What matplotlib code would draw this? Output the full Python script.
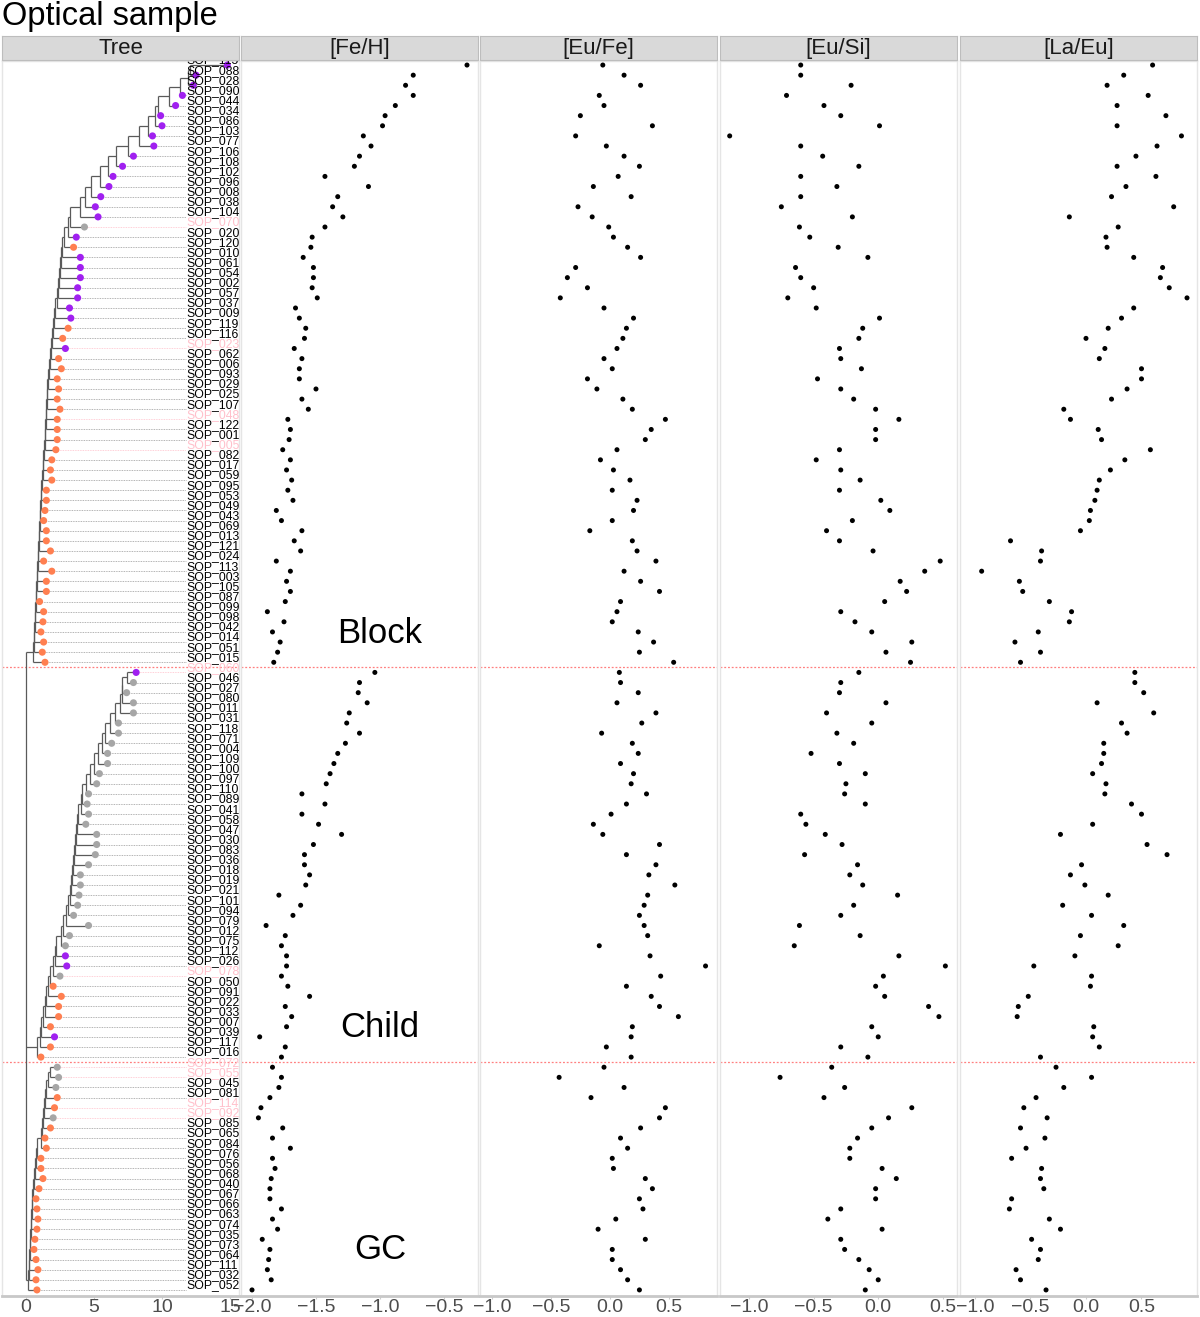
import numpy as np
import matplotlib.pyplot as plt

plt.rcParams['font.family'] = ['Liberation Sans', 'DejaVu Sans']

# tip labels, top to bottom, for each group
block_ids = ['115', '088', '028', '090', '044', '034', '086', '103', '077', '106',
             '108', '102', '096', '008', '038', '104', '070', '020', '120', '010',
             '061', '054', '002', '057', '037', '009', '119', '116', '023', '062',
             '006', '093', '029', '025', '107', '048', '122', '001', '005', '082',
             '017', '059', '095', '053', '049', '043', '069', '013', '121', '024',
             '113', '003', '105', '087', '099', '098', '042', '014', '051', '015']
child_ids = ['060', '046', '027', '080', '011', '031', '118', '071', '004', '109',
             '100', '097', '110', '089', '041', '058', '047', '030', '083', '036',
             '018', '019', '021', '101', '094', '079', '012', '075', '112', '026',
             '078', '050', '091', '022', '033', '007', '039', '117', '016']
gc_ids = ['072', '055', '045', '081', '114', '092', '085', '065', '084', '076',
          '056', '068', '040', '067', '066', '063', '074', '035', '073', '064',
          '111', '032', '052']
pink_ids = ['070', '023', '048', '005', '060', '078', '072', '055', '114', '092']

# tip colour class: P purple, O orange, G grey
block_cls = 'PPPPPPPPPPPPPPPPGPOPPPPPPPOOP' + 'OOOOOOOOOOOOOOOOOOOOOOOOOOOOOOO'
child_cls = 'PGGGGGGGGGGGGGGGGGGGGGGGGGGGPPGOOOOOPOO'
gc_cls = 'GGGOOGOOOOOOOOOOOOOOOOO'

# tree: tip depth and depth of the node joining each tip to the clade above
block_tip = [14.8, 12.5, 12.3, 11.5, 11.0, 9.9, 10.0, 9.3, 9.4, 7.9,
             7.1, 6.4, 6.1, 5.5, 5.1, 5.3, 4.3, 3.7, 3.5, 4.0,
             4.0, 4.0, 3.8, 3.8, 3.2, 3.3, 3.1, 2.7, 2.9, 2.4,
             2.6, 2.3, 2.4, 2.3, 2.5, 2.3, 2.3, 2.3, 2.2, 1.9,
             1.8, 1.9, 1.5, 1.5, 1.4, 1.3, 1.5, 1.5, 1.8, 1.3,
             1.9, 1.5, 1.5, 1.0, 1.3, 1.25, 1.1, 1.3, 1.2, 1.4]
block_node = [12.06, 11.9, 11.3, 10.5, 9.7, 9.5, 8.97, 8.3, 7.5, 6.6,
              6.0, 5.44, 4.8, 4.34, 3.97, 3.24, 3.09, 2.8, 2.65, 2.57,
              2.5, 2.43, 2.35, 2.28, 2.13, 2.06, 1.99, 1.91, 1.84, 1.76,
              1.69, 1.62, 1.54, 1.54, 1.47, 1.47, 1.40, 1.40, 1.32, 1.25,
              1.25, 1.18, 1.10, 1.10, 1.03, 1.03, 0.96, 0.96, 0.88, 0.88,
              0.81, 0.81, 0.74, 0.74, 0.66, 0.66, 0.59, 0.59, 0.51]
child_tip = [8.1, 7.9, 7.4, 7.9, 7.9, 6.8, 6.8, 6.3, 6.0, 6.0,
             5.4, 5.2, 4.6, 4.5, 4.6, 4.4, 5.2, 5.2, 5.1, 4.6,
             4.0, 4.0, 3.9, 3.8, 3.5, 4.6, 3.2, 2.9, 2.9, 3.0,
             2.5, 2.0, 2.6, 2.4, 2.4, 1.8, 2.1, 1.8, 1.1]
child_node = [7.43, 7.06, 7.06, 6.91, 6.54, 6.18, 5.81, 5.59, 5.29, 5.0,
              4.71, 4.41, 4.12, 4.04, 3.82, 3.75, 3.68, 3.6, 3.53, 3.46,
              3.38, 3.31, 3.24, 3.09, 2.94, 2.72, 2.57, 2.21, 2.13, 1.99,
              1.76, 1.62, 1.47, 1.40, 1.25, 1.10, 1.03, 0.81]
gc_tip = [2.3, 2.4, 2.2, 2.3, 2.1, 2.0, 1.8, 1.4, 1.5, 1.1,
          1.1, 1.25, 0.96, 0.74, 0.81, 0.88, 0.81, 0.66, 0.59, 0.74,
          0.88, 0.74, 0.81]
gc_node = [1.76, 1.62, 1.47, 1.40, 1.32, 1.25, 1.18, 1.10, 0.81, 0.74,
           0.66, 0.59, 0.51, 0.44, 0.44, 0.37, 0.37, 0.29, 0.29, 0.22,
           0.22, 0.15]

nan = np.nan
block_feh = [-0.32, -0.74, -0.80, -0.74, -0.88, -0.96, -0.98, -1.13, -1.07, -1.16,
             -1.20, -1.43, -1.09, -1.33, -1.37, -1.29, -1.43, -1.53, -1.54, -1.60,
             -1.52, -1.52, -1.53, -1.49, -1.66, -1.63, -1.58, -1.59, -1.67, -1.61,
             -1.63, -1.63, -1.50, -1.61, -1.56, -1.72, -1.70, -1.71, -1.76, -1.70,
             -1.73, -1.69, -1.72, -1.68, -1.81, -1.77, -1.61, -1.67, -1.62, -1.81,
             -1.70, -1.73, -1.70, -1.74, -1.88, -1.75, -1.84, -1.78, -1.80, -1.83]
child_feh = [-1.04, -1.16, -1.17, -1.10, -1.24, -1.26, -1.16, -1.27, -1.33, -1.36,
             -1.39, -1.42, -1.61, -1.43, -1.61, -1.48, -1.30, -1.52, -1.59, -1.59,
             -1.55, -1.58, -1.79, -1.62, -1.68, -1.89, -1.74, -1.77, -1.73, -1.73,
             -1.77, -1.72, -1.55, -1.74, -1.69, -1.73, -1.94, -1.74, -1.77]
gc_feh = [-1.84, -1.77, -1.79, -1.86, -1.93, -1.95, -1.76, -1.84, -1.70, -1.84,
          -1.82, -1.85, -1.86, -1.86, -1.77, -1.84, -1.80, -1.92, -1.86, -1.87,
          -1.88, -1.85, -2.00]

block_eufe = [-0.06, 0.12, 0.26, -0.09, -0.05, -0.25, 0.36, -0.29, -0.03, 0.12,
              0.25, 0.07, -0.14, 0.18, -0.27, -0.15, -0.01, 0.03, 0.15, 0.26,
              -0.29, -0.36, -0.19, -0.42, -0.05, 0.20, 0.14, 0.11, 0.06, -0.05,
              0.02, -0.19, -0.11, 0.11, 0.19, 0.47, 0.35, 0.30, 0.06, -0.08,
              0.03, 0.17, 0.02, 0.23, 0.20, 0.02, -0.17, 0.19, 0.23, 0.39,
              0.12, 0.26, 0.42, 0.09, 0.06, 0.02, 0.24, 0.37, 0.25, 0.54]
child_eufe = [0.08, 0.09, 0.24, 0.06, 0.39, 0.27, -0.07, 0.19, 0.24, 0.09,
              0.20, 0.18, 0.31, 0.14, 0.01, -0.14, -0.06, 0.42, 0.14, 0.39,
              0.33, 0.55, 0.32, 0.29, 0.25, 0.29, 0.32, -0.09, 0.34, 0.81,
              0.43, 0.14, 0.35, 0.42, 0.58, 0.19, 0.18, -0.03, 0.18]
gc_eufe = [-0.05, -0.43, 0.12, -0.16, 0.47, 0.42, 0.26, 0.09, 0.15, 0.02,
           0.03, 0.30, 0.36, 0.25, 0.28, 0.05, -0.10, 0.30, 0.02, 0.02,
           0.09, 0.15, 0.25]

block_eusi = [-0.60, -0.60, -0.21, -0.71, -0.42, -0.29, 0.01, -1.15, -0.60, -0.43,
              -0.15, -0.60, -0.32, -0.60, -0.75, -0.20, -0.61, -0.53, -0.31, -0.08,
              -0.64, -0.60, -0.50, -0.70, -0.48, 0.01, -0.12, -0.15, -0.30, -0.29,
              -0.13, -0.47, -0.29, -0.19, -0.02, 0.16, -0.02, -0.02, -0.30, -0.48,
              -0.29, -0.14, -0.30, 0.02, 0.09, -0.20, -0.40, -0.30, -0.04, 0.48,
              0.36, 0.17, 0.22, 0.05, -0.29, -0.18, -0.05, 0.26, 0.06, 0.25]
child_eusi = [-0.15, -0.29, -0.30, 0.06, -0.40, -0.05, -0.32, -0.19, -0.52, -0.30,
              -0.10, -0.25, -0.26, -0.10, -0.60, -0.56, -0.41, -0.28, -0.57, -0.16,
              -0.22, -0.12, 0.15, -0.19, -0.29, -0.61, -0.14, -0.65, 0.16, 0.52,
              0.04, -0.02, 0.05, 0.39, 0.47, -0.05, 0.0, -0.29, -0.08]
gc_eusi = [-0.36, -0.76, -0.26, -0.42, 0.26, 0.08, -0.05, -0.16, -0.22,
           -0.22, 0.03, 0.14, -0.02, -0.02, -0.29, -0.39, 0.03, -0.29, -0.26,
           -0.15, -0.07, 0.0, -0.10]

block_laeu = [0.60, 0.34, 0.19, 0.56, 0.28, 0.72, 0.28, 0.86, 0.64, 0.45,
              0.28, 0.63, 0.36, 0.23, 0.79, -0.15, 0.29, 0.18, 0.19, 0.43,
              0.69, 0.67, 0.75, 0.91, 0.43, 0.32, 0.20, 0.0, 0.17, 0.12,
              0.50, 0.50, 0.37, 0.23, -0.20, -0.14, 0.11, 0.14, 0.58, 0.35,
              0.22, 0.12, 0.10, 0.08, 0.04, 0.03, -0.05, -0.68, -0.40, -0.41,
              -0.94, -0.60, -0.57, -0.33, -0.13, -0.15, -0.43, -0.64, -0.41, -0.59]
child_laeu = [0.44, 0.44, 0.52, 0.10, 0.61, 0.32, 0.37, 0.16, 0.16, 0.14,
              0.06, 0.18, 0.17, 0.41, 0.50, 0.06, -0.23, 0.55, 0.73, -0.04,
              -0.14, -0.01, 0.20, -0.21, 0.05, 0.34, -0.05, 0.29, -0.10, -0.47,
              0.05, 0.04, -0.52, -0.61, -0.62, 0.07, 0.06, 0.12, -0.41]
gc_laeu = [-0.27, 0.05, -0.20, -0.45, -0.56, -0.35, -0.59, -0.37, -0.54, -0.67,
           -0.40, -0.41, -0.38, -0.67, -0.69, -0.33, -0.23, -0.49, -0.41, -0.43,
           -0.63, -0.59, -0.36]

panel_titles = ['Tree', '[Fe/H]', '[Eu/Fe]', '[Eu/Si]', '[La/Eu]']
group_names = ['Block', 'Child', 'GC']

# ---------------------------------------------------------------
ids = block_ids + child_ids + gc_ids
n_block, n_child, n_gc = len(block_ids), len(child_ids), len(gc_ids)
rows = np.arange(len(ids))
cls_colour = {'P': '#A020F0', 'O': '#FF7F50', 'G': '#A6A6A6'}
tip_cols = [cls_colour[c] for c in block_cls + child_cls + gc_cls]

W, H = 1200, 1317
fig = plt.figure(figsize=(W / 100, H / 100), dpi=100)
fig.text(2 / W, 1 - 16 / H, 'Optical sample', fontsize=23.5, va='center', ha='left')

panel_px = [(2, 239), (241, 478), (480, 717), (720, 957), (960, 1197)]
xlims = [(-1.76, 15.66), (-2.086, -0.234), (-1.10, 0.907), (-1.225, 0.61), (-1.135, 1.0)]
xticks = [[0, 5, 10, 15], [-2.0, -1.5, -1.0, -0.5], [-1.0, -0.5, 0.0, 0.5],
          [-1.0, -0.5, 0.0, 0.5], [-1.0, -0.5, 0.0, 0.5]]
top_px, bot_px = 61, 1296
ylim = (121.6, -0.4)
cuts = [n_block - 0.5, n_block + n_child - 0.5]

axes = []
for i, (x0, x1) in enumerate(panel_px):
    ax = fig.add_axes([x0 / W, 1 - bot_px / H, (x1 - x0) / W, (bot_px - top_px) / H])
    ax.set_xlim(*xlims[i])
    ax.set_ylim(*ylim)
    ax.set_yticks([])
    ax.set_xticks(xticks[i])
    if i == 0:
        ax.set_xticklabels([str(t) for t in xticks[i]])
    else:
        ax.set_xticklabels([f'{t:.1f}'.replace('-', '\u2212') for t in xticks[i]])
    ax.tick_params(axis='x', labelsize=14, colors='#4D4D4D', length=2,
                   color='#CCCCCC', pad=0)
    for s in ['left', 'right', 'top']:
        ax.spines[s].set_color('#E5E5E5')
        ax.spines[s].set_linewidth(1)
    ax.spines['bottom'].set_color('#C8C8C8')
    ax.spines['bottom'].set_linewidth(2)
    for c in cuts:
        ax.axhline(c, color='#FF7F7F', lw=0.9, ls=(0, (1.5, 1.5)), zorder=1)
    # strip
    sx = fig.add_axes([x0 / W, 1 - 60 / H, (x1 - x0) / W, 24 / H])
    sx.set_facecolor('#D9D9D9')
    sx.set_xticks([])
    sx.set_yticks([])
    for s in sx.spines.values():
        s.set_color('#BDBDBD')
    sx.text(0.5, 0.47, panel_titles[i], transform=sx.transAxes, ha='center',
            va='center', fontsize=16, color='#1A1A1A')
    axes.append(ax)

# ---- tree panel ----
tax = axes[0]
line_kw = dict(color='#5A5A5A', lw=0.9, solid_capstyle='butt', zorder=2)


def draw_ladder(ax, ys, tips, nodes):
    cx, cy = tips[0], ys[0]
    for k in range(1, len(tips)):
        nx = nodes[k - 1]
        ax.plot([nx, cx], [cy, cy], **line_kw)
        ax.plot([nx, tips[k]], [ys[k], ys[k]], **line_kw)
        ax.plot([nx, nx], [cy, ys[k]], **line_kw)
        cx, cy = nx, (cy + ys[k]) / 2
    return cx, cy


clades = []
start = 0
for tips, nodes in [(block_tip, block_node), (child_tip, child_node), (gc_tip, gc_node)]:
    ys = rows[start:start + len(tips)]
    clades.append(draw_ladder(tax, ys, tips, nodes))
    start += len(tips)
for cx, cy in clades:
    tax.plot([0, cx], [cy, cy], **line_kw)
tax.plot([0, 0], [clades[0][1], clades[-1][1]], **line_kw)

all_tips = block_tip + child_tip + gc_tip
label_x = 11.76
for r, lab, tx in zip(rows, ids, all_tips):
    pink = lab in pink_ids
    if tx < label_x:
        tax.plot([tx, label_x], [r, r], color='#FFC0CB' if pink else '#9A9A9A',
                 lw=0.6, ls=(0, (1, 1)), zorder=1)
    tax.text(label_x, r - 0.45, 'SOP_' + lab, fontsize=8.8, va='center', ha='left',
             color='#FFC0CB' if pink else 'black', clip_on=True, zorder=4)
tax.scatter(all_tips, rows, s=26, c=tip_cols, edgecolors='none', zorder=3)

# ---- abundance panels ----
series = [block_feh + child_feh + gc_feh,
          block_eufe + child_eufe + gc_eufe,
          block_eusi + child_eusi + gc_eusi,
          block_laeu + child_laeu + gc_laeu]
for ax, vals in zip(axes[1:], series):
    ax.scatter(vals, rows, s=13, c='black', edgecolors='none', zorder=3)

group_rows = [56.2, 95.1, 117.0]
for name, gr in zip(group_names, group_rows):
    axes[1].text(-1.0, gr, name, fontsize=25, ha='center', va='center')

fig.savefig('out.png', dpi=100)
